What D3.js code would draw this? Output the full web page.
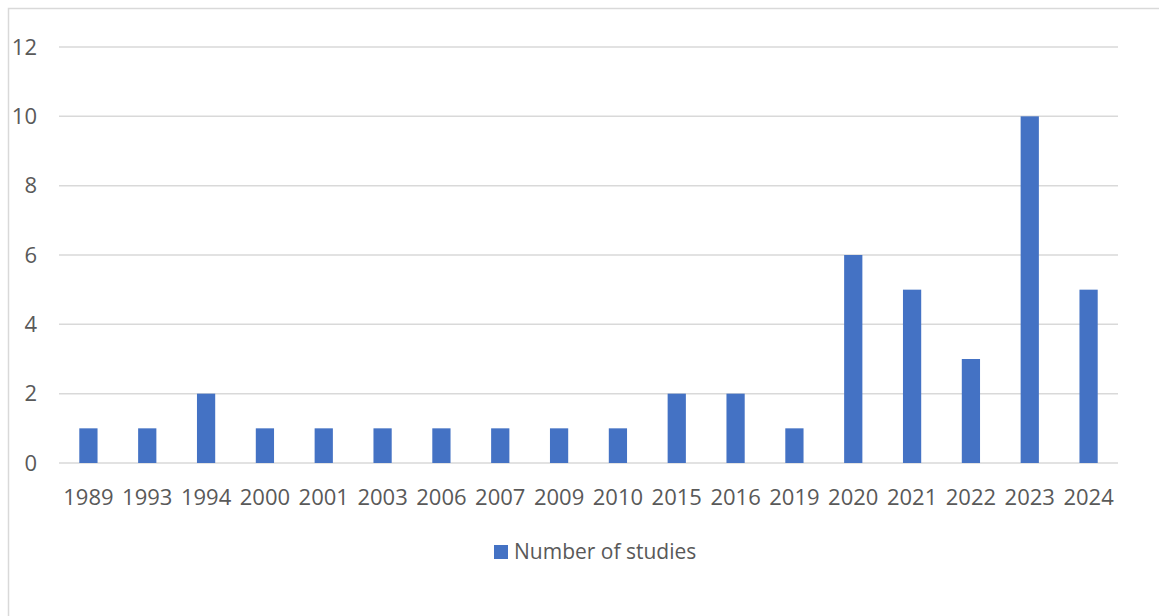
<!DOCTYPE html>
<html lang="en">
  <head>
    <meta charset="UTF-8" />
    <title>Number of studies per year</title>
    <script src="https://d3js.org/d3.v7.min.js"></script>
    <style>
      body { margin: 0; background: #fff; }
      text { font-family: "Open Sans", sans-serif; fill: #595959; }
    </style>
  </head>
  <body>
    <svg id="chart" width="1159" height="616"></svg>
    <script>
      const years = ["1989", "1993", "1994", "2000", "2001", "2003", "2006", "2007", "2009",
        "2010", "2015", "2016", "2019", "2020", "2021", "2022", "2023", "2024"];
      const studies = [1, 1, 2, 1, 1, 1, 1, 1, 1, 1, 2, 2, 1, 6, 5, 3, 10, 5];
      const yTicks = [0, 2, 4, 6, 8, 10, 12];
      const seriesName = "Number of studies";

      const svg = d3.select("#chart");
      const margin = { left: 59, right: 1118, top: 47, bottom: 463 };

      // chart border
      svg.append("rect")
        .attr("x", 8.5).attr("y", 8.5)
        .attr("width", 1170).attr("height", 640)
        .attr("fill", "none")
        .attr("stroke", "#d9d9d9")
        .attr("stroke-width", 1.5);

      const x = d3.scaleBand().domain(years).range([margin.left, margin.right]).paddingInner(0.69).paddingOuter(0.345);
      const y = d3.scaleLinear().domain([0, 12]).range([margin.bottom, margin.top]);

      // gridlines
      svg.append("g")
        .selectAll("line")
        .data(yTicks)
        .enter()
        .append("line")
        .attr("x1", margin.left)
        .attr("x2", margin.right)
        .attr("y1", (d) => y(d))
        .attr("y2", (d) => y(d))
        .attr("stroke", "#d9d9d9")
        .attr("stroke-width", 1.5);

      // y labels
      svg.append("g")
        .selectAll("text")
        .data(yTicks)
        .enter()
        .append("text")
        .attr("x", 37)
        .attr("y", (d) => y(d))
        .attr("dy", "0.35em")
        .attr("text-anchor", "end")
        .style("font-size", "22px")
        .text((d) => d);

      // bars
      svg.append("g")
        .selectAll("rect")
        .data(studies)
        .enter()
        .append("rect")
        .attr("x", (d, i) => x(years[i]))
        .attr("width", x.bandwidth())
        .attr("y", (d) => y(d))
        .attr("height", (d) => y(0) - y(d))
        .attr("fill", "#4472c4");

      // x labels
      svg.append("g")
        .selectAll("text")
        .data(years)
        .enter()
        .append("text")
        .attr("x", (d) => x(d) + x.bandwidth() / 2)
        .attr("y", 497)
        .attr("dy", "0.35em")
        .attr("text-anchor", "middle")
        .style("font-size", "22px")
        .text((d) => d);

      // legend
      const legend = svg.append("g");
      legend.append("rect")
        .attr("x", 494).attr("y", 545)
        .attr("width", 14).attr("height", 14)
        .attr("fill", "#4472c4");
      legend.append("text")
        .attr("x", 514).attr("y", 552)
        .attr("dy", "0.35em")
        .style("font-size", "21px")
        .text(seriesName);
    </script>
  </body>
</html>
